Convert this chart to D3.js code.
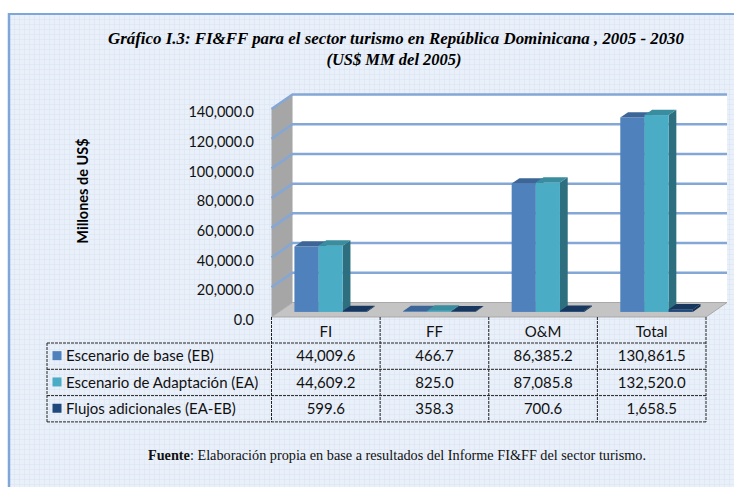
<!DOCTYPE html>
<html>
<head>
<meta charset="utf-8">
<script src="https://cdn.jsdelivr.net/npm/d3@7"></script>
<style>
body { margin: 0; background: #fff; }
</style>
</head>
<body>
<svg id="chart"></svg>
<script>
const categories = ["FI", "FF", "O&M", "Total"]
const seriesNames = ["Escenario de base (EB)", "Escenario de Adaptación (EA)", "Flujos adicionales (EA-EB)"]
const eb = [44009.6, 466.7, 86385.2, 130861.5]
const ea = [44609.2, 825.0, 87085.8, 132520.0]
const flujos = [599.6, 358.3, 700.6, 1658.5]
const yTicks = [0, 20000, 40000, 60000, 80000, 100000, 120000, 140000]

const width = 734, height = 487
const svg = d3.select("#chart").attr("width", width).attr("height", height)

const seriesValues = [eb, ea, flujos]
const fronts = ["#4f81bd", "#4bacc6", "#1f497d"]
const tops = ["#3d6698", "#3a8d9e", "#17375f"]
const sides = ["#385d8c", "#2e6f7f", "#142f52"]

// depth offset of the 3d box
const DX = 21, DY = 14.5
const proj = (x, y, z) => [x + z * DX, y - z * DY]

const x0 = d3.scaleBand().domain(categories).range([271.5, 706])
const x1 = d3.scaleBand().domain([0, 1, 2]).range([0, x0.bandwidth()]).paddingInner(0).paddingOuter(0.75).align(0.43)
const y = d3.scaleLinear().domain([0, 140000]).range([317, 109])

// background with graph paper look
let defs = svg.append("defs")
let pat = defs.append("pattern").attr("id", "grid").attr("width", 5).attr("height", 5).attr("patternUnits", "userSpaceOnUse")
pat.append("rect").attr("width", 5).attr("height", 5).attr("fill", "#eaf0f9")
pat.append("path").attr("d", "M5 0V5M0 5H5").attr("stroke", "#d8e2f1").attr("stroke-width", 1).attr("fill", "none")

svg.append("rect").attr("x", 9).attr("y", 14).attr("width", width - 9).attr("height", height - 14).attr("fill", "url(#grid)")
svg.append("line").attr("x1", 9).attr("x2", 9).attr("y1", 13).attr("y2", height).attr("stroke", "#7ea6d9").attr("stroke-width", 2.5)
svg.append("line").attr("x1", 8).attr("x2", width).attr("y1", 14).attr("y2", 14).attr("stroke", "#7ea6d9").attr("stroke-width", 2)

// title
let title = svg.append("g").attr("font-family", "'Liberation Serif', 'Times New Roman', serif")
    .attr("font-weight", "bold").attr("font-style", "italic").attr("font-size", 16.5).attr("text-anchor", "middle")
title.append("text").attr("x", 396).attr("y", 44).attr("textLength", 576).attr("lengthAdjust", "spacingAndGlyphs")
    .text("Gráfico I.3: FI&FF para el sector turismo  en República Dominicana , 2005 - 2030")
title.append("text").attr("x", 394).attr("y", 65).text("(US$ MM del 2005)")

const x0min = x0.range()[0], x0max = x0.range()[1]
const pts = a => a.map(p => p.join(",")).join(" ")

// back wall
let backTL = proj(x0min, y(140000), 1), backBR = proj(x0max, y(0), 1)
svg.append("rect").attr("x", backTL[0]).attr("y", backTL[1]).attr("width", backBR[0] - backTL[0]).attr("height", backBR[1] - backTL[1]).attr("fill", "#fff")

// side wall
svg.append("polygon").attr("points", pts([proj(x0min, y(0), 0), proj(x0min, y(140000), 0), proj(x0min, y(140000), 1), proj(x0min, y(0), 1)]))
    .attr("fill", "#a6a6a6")

// floor
svg.append("polygon").attr("points", pts([proj(x0min, y(0), 0), proj(x0max, y(0), 0), proj(x0max, y(0), 1), proj(x0min, y(0), 1)]))
    .attr("fill", "#c4c4c4").attr("stroke", "#a9a9a9").attr("stroke-width", 1)

// gridlines on back and side wall
let grid = svg.append("g")
grid.selectAll("path").data(yTicks.filter(d => d > 0)).join("path")
    .attr("d", d => "M" + proj(x0min, y(d), 0) + "L" + proj(x0min, y(d), 1) + "L" + proj(x0max, y(d), 1))
    .attr("fill", "none").attr("stroke", "#84a7d6").attr("stroke-width", 2.5)

// y axis labels
svg.append("g").attr("font-family", "Lato, 'Open Sans', sans-serif").attr("font-size", 14.5).attr("text-anchor", "end")
    .selectAll("text").data(yTicks).join("text")
    .attr("x", 254).attr("y", d => y(d) + 3).attr("dy", "0.35em").attr("fill", "#111")
    .text(d => d3.format(",.1f")(d))

svg.append("text").attr("transform", "translate(88,191) rotate(-90)").attr("text-anchor", "middle")
    .attr("font-family", "Lato, 'Open Sans', sans-serif").attr("font-weight", "bold").attr("font-size", 14.5)
    .text("Millones de US$")

// 3d bars
const z0 = 0.35, z1 = 0.72
let bars = []
categories.forEach((c, i) => {
    seriesValues.forEach((vals, s) => bars.push({cat: c, s: s, v: vals[i]}))
})
let barG = svg.append("g").selectAll("g").data(bars).join("g")
barG.each(function(d) {
    let g = d3.select(this)
    let xa = x0(d.cat) + x1(d.s), xb = xa + x1.bandwidth()
    let yt = y(d.v), yb = y(0)
    g.append("polygon").attr("points", pts([proj(xb, yb, z0), proj(xb, yt, z0), proj(xb, yt, z1), proj(xb, yb, z1)])).attr("fill", sides[d.s])
    let f0 = proj(xa, yt, z0), f1 = proj(xb, yb, z0)
    g.append("rect").attr("x", f0[0]).attr("y", f0[1]).attr("width", f1[0] - f0[0]).attr("height", Math.max(0, f1[1] - f0[1])).attr("fill", fronts[d.s])
    g.append("polygon").attr("points", pts([proj(xa, yt, z0), proj(xb, yt, z0), proj(xb, yt, z1), proj(xa, yt, z1)])).attr("fill", tops[d.s])
})

// data table
const rowTop = 317
const rowY = [rowTop, rowTop + 26, rowTop + 52.3, rowTop + 78.6, rowTop + 104.9]
const tableLeft = 47
let table = svg.append("g").attr("font-family", "Lato, 'Open Sans', sans-serif").attr("font-size", 15).attr("fill", "#111")
let dash = sel => sel.attr("stroke", "#222").attr("stroke-width", 1).attr("stroke-dasharray", "3,1")

let colEdges = categories.map(c => x0(c)).concat([x0max])
colEdges.forEach(xe => {
    table.append("line").attr("x1", xe).attr("x2", xe).attr("y1", rowY[0]).attr("y2", rowY[4]).call(dash)
})
table.append("line").attr("x1", tableLeft).attr("x2", tableLeft).attr("y1", rowY[1]).attr("y2", rowY[4]).call(dash)
for (let r = 1; r <= 4; r++) {
    table.append("line").attr("x1", tableLeft).attr("x2", x0max).attr("y1", rowY[r]).attr("y2", rowY[r]).call(dash)
}
table.selectAll("text.cat").data(categories).join("text").attr("class", "cat")
    .attr("x", d => x0(d) + x0.bandwidth() / 2).attr("y", (rowY[0] + rowY[1]) / 2 + 2).attr("dy", "0.35em")
    .attr("text-anchor", "middle").text(d => d)

seriesNames.forEach((name, s) => {
    let cy = (rowY[s + 1] + rowY[s + 2]) / 2
    table.append("rect").attr("x", 52.5).attr("y", cy - 5).attr("width", 9).attr("height", 9).attr("fill", fronts[s])
    table.append("text").attr("x", 66).attr("y", cy).attr("dy", "0.35em").text(name)
    table.selectAll("text.v" + s).data(seriesValues[s]).join("text").attr("class", "v" + s)
        .attr("x", (d, i) => x0(categories[i]) + x0.bandwidth() / 2).attr("y", cy).attr("dy", "0.35em")
        .attr("text-anchor", "middle").text(d => d3.format(",.1f")(d))
})

// source note
let note = svg.append("text").attr("x", 397).attr("y", 460).attr("text-anchor", "middle")
    .attr("font-family", "'Liberation Serif', 'Times New Roman', serif").attr("font-size", 14).attr("fill", "#111")
    .attr("textLength", 498).attr("lengthAdjust", "spacingAndGlyphs")
note.append("tspan").attr("font-weight", "bold").text("Fuente")
note.append("tspan").text(": Elaboración  propia en base a resultados del Informe FI&FF del sector turismo.")
</script>
</body>
</html>
